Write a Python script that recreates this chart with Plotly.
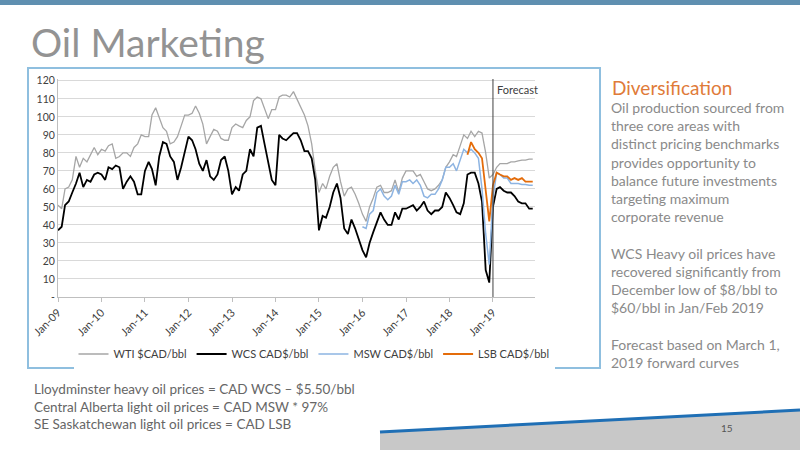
import pandas as pd
import plotly.graph_objects as go

months = pd.date_range("2009-01-01", "2019-12-01", freq="MS")

wti = [51, 49, 60, 61, 65, 78, 72, 77, 75, 79, 83, 79,
       82, 81, 84, 85, 77, 78, 80, 80, 78, 83, 85, 90,
       89, 89, 101, 105, 99, 94, 92, 85, 86, 89, 95, 101,
       101, 102, 106, 102, 96, 85, 89, 93, 92, 88, 87, 87,
       94, 96, 95, 94, 98, 100, 109, 111, 110, 105, 99, 104,
       104, 111, 112, 112, 111, 114, 110, 105, 101, 95, 85, 70,
       58, 63, 60, 67, 72, 74, 64, 56, 60, 61, 57, 52,
       46, 42, 50, 55, 61, 62, 58, 58, 59, 65, 58, 66,
       70, 70, 70, 67, 68, 64, 60, 59, 60, 62, 65, 72,
       75, 79, 78, 84, 90, 88, 92, 89, 92, 91, 80, 66,
       68, 72, 74, 74, 74, 75, 75, 75.5, 76, 76, 76.5, 76.5]

wcs = [37, 39, 51, 53, 58, 63, 69, 61, 65, 64, 68, 69,
       68, 65, 72, 71, 73, 72, 60, 64, 67, 64, 57, 57,
       70, 75, 71, 62, 78, 86, 85, 78, 75, 65, 72, 80,
       89, 87, 82, 74, 70, 76, 67, 65, 68, 76, 78, 70,
       57, 61, 59, 68, 70, 82, 78, 94, 95, 85, 75, 65,
       62, 90, 88, 87, 89, 91, 91, 87, 81, 81, 77, 65,
       37, 45, 44, 50, 58, 63, 55, 38, 35, 43, 38, 32,
       26, 22, 30, 36, 42, 47, 43, 40, 40, 47, 43, 49,
       49, 50, 51, 48, 50, 53, 48, 46, 48, 48, 50, 58,
       55, 51, 47, 46, 52, 68, 69, 69, 63, 53, 15, 8,
       50, 60, 61, 59, 58, 58, 56, 53, 52, 52, 49, 49]

msw = [None] * 84 + [
       39, 38, 46, 48, 58, 60, 56, 54, 56, 62, 57, 64,
       64, 65, 63, 65, 62, 56, 55, 57, 57, 60, 65, 72,
       72, 74, 70, 76, 82, 80, 82, 80, 77, 60, 35, 18,
       55, 69, 68, 66, 66, 63, 63, 63, 62.5, 62.5, 62, 62]

lsb = [None] * 113 + [
       79, 86, 82, 80, 77, 60, 42,
       62, 69, 68, 67, 67, 65, 66, 65, 66, 64, 64, 64]

y_ticks = [0, 10, 20, 30, 40, 50, 60, 70, 80, 90, 100, 110, 120]
y_labels = ["-"] + [str(v) for v in y_ticks[1:]]

font = "Lato, Open Sans, sans-serif"

fig = go.Figure()
fig.add_trace(go.Scatter(x=months, y=wti, name="WTI $CAD/bbl", mode="lines",
                         line=dict(color="#a6a6a6", width=1.3)))
fig.add_trace(go.Scatter(x=months, y=wcs, name="WCS CAD$/bbl", mode="lines",
                         line=dict(color="#000000", width=1.8)))
fig.add_trace(go.Scatter(x=months, y=msw, name="MSW CAD$/bbl", mode="lines",
                         line=dict(color="#8db4e2", width=1.5)))
fig.add_trace(go.Scatter(x=months, y=lsb, name="LSB CAD$/bbl", mode="lines",
                         line=dict(color="#e46c0a", width=1.8)))

def px(x):
    return x / 800

def py(y):
    return 1 - y / 450

# slide decorations
shapes = [
    dict(type="rect", xref="paper", yref="paper", x0=0, x1=1, y0=py(5), y1=1,
         fillcolor="#5f8fb0", line_width=0),
    dict(type="rect", xref="paper", yref="paper", x0=px(28), x1=px(600), y0=py(368), y1=py(68),
         line=dict(color="#8fbfdf", width=2)),
    dict(type="path", xref="paper", yref="paper",
         path=f"M {px(380)},{py(450)} L {px(380)},{py(432)} L 1,{py(410)} L 1,0 Z",
         fillcolor="#c8c8c8", line_width=0),
    dict(type="path", xref="paper", yref="paper",
         path=f"M {px(380)},{py(432)} L 1,{py(410)}",
         line=dict(color="#1f6fb5", width=3)),
    dict(type="line", x0="2019-01-01", x1="2019-01-01", y0=0, y1=1, xref="x", yref="y domain",
         line=dict(color="#404040", width=1)),
]

right_text = ("Oil production sourced from<br>three core areas with<br>distinct pricing benchmarks<br>"
              "provides opportunity to<br>balance future investments<br>targeting maximum<br>"
              "corporate revenue<br><br>WCS Heavy oil prices have<br>recovered significantly from<br>"
              "December low of $8/bbl to<br>$60/bbl in Jan/Feb 2019<br><br>"
              "Forecast based on March 1,<br>2019 forward curves")

annotations = [
    dict(text="Oil Marketing", x=px(29), y=py(42), xref="paper", yref="paper", xanchor="left",
         yanchor="middle", showarrow=False, font=dict(size=39, color="#939393", family=font)),
    dict(text="Diversification", x=px(610), y=py(87), xref="paper", yref="paper", xanchor="left",
         yanchor="middle", showarrow=False, font=dict(size=19, color="#e07b39", family=font)),
    dict(text=right_text, x=px(609), y=py(97), xref="paper", yref="paper", xanchor="left",
         yanchor="top", align="left", showarrow=False,
         font=dict(size=14, color="#8a8a8a", family=font)),
    dict(text="Lloydminster heavy oil prices = CAD WCS – $5.50/bbl<br>"
              "Central Alberta light oil prices = CAD MSW * 97%<br>"
              "SE Saskatchewan light oil prices = CAD LSB",
         x=px(32), y=py(379), xref="paper", yref="paper", xanchor="left", yanchor="top",
         align="left", showarrow=False, font=dict(size=13.5, color="#666666", family=font)),
    dict(text="15", x=px(735), y=py(436), xref="paper", yref="paper", showarrow=False,
         font=dict(size=10, color="#555555", family=font)),
    dict(text="Forecast", x="2019-01-15", y=115, xref="x", yref="y", xanchor="left",
         showarrow=False, font=dict(size=11, color="#404040", family=font)),
]

fig.update_layout(
    width=800, height=450, margin=dict(l=0, r=0, t=0, b=0, autoexpand=False),
    paper_bgcolor="white", plot_bgcolor="white",
    shapes=shapes, annotations=annotations,
    font=dict(family=font, size=10, color="#404040"),
    legend=dict(orientation="h", x=px(314), xanchor="center", y=py(354), yanchor="middle",
                font=dict(size=11, color="#404040"), itemwidth=30),
    xaxis=dict(domain=[px(58), px(535)], range=["2009-01-01", "2019-12-20"],
               tickvals=pd.date_range("2009-01-01", "2019-01-01", freq="12MS"),
               tickformat="%b-%y", tickangle=-45, showgrid=False, automargin=False,
               showline=True, linecolor="#bfbfbf", ticks="outside", ticklen=4, tickcolor="#bfbfbf",
               tickfont=dict(size=11)),
    yaxis=dict(domain=[py(297), py(79)], range=[0, 121], tickvals=y_ticks, ticktext=y_labels,
               gridcolor="#d9d9d9", showline=True, linecolor="#bfbfbf", zeroline=False,
               automargin=False, tickfont=dict(size=10.5)),
)

fig.write_html("out.html", config={"displayModeBar": False},
               post_script="document.body.style.margin='0';document.body.style.overflow='hidden';")
